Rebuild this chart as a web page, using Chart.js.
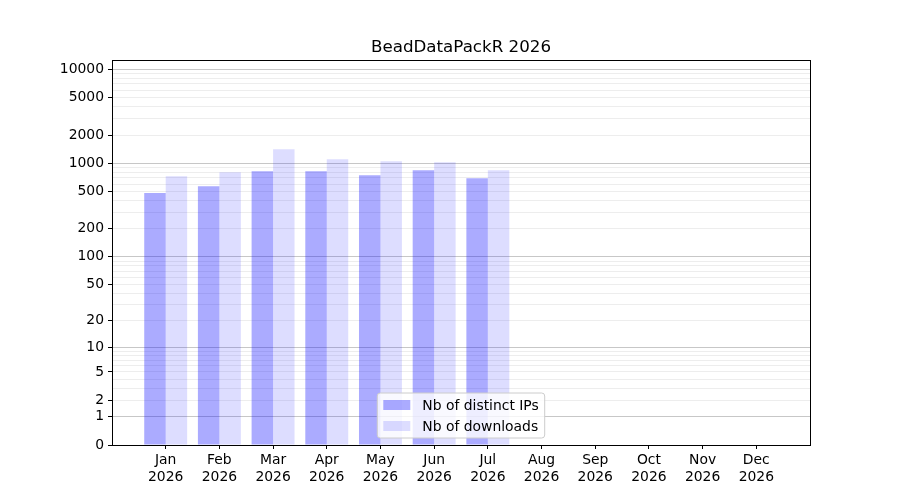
<!DOCTYPE html>
<html>
<head>
<meta charset="utf-8">
<script src="https://cdn.jsdelivr.net/npm/chart.js@4.4.1/dist/chart.umd.min.js"></script>
<style>
  html, body { margin: 0; padding: 0; background: #fff; }
  #wrap { width: 900px; height: 500px; }
</style>
</head>
<body>
<div id="wrap"><canvas id="bar-downloads" width="900" height="500"></canvas></div>
<script>
const chartTitle = 'BeadDataPackR 2026';
const monthLabels = ['Jan', 'Feb', 'Mar', 'Apr', 'May', 'Jun', 'Jul', 'Aug', 'Sep', 'Oct', 'Nov', 'Dec'];
const yearLabel = '2026';
const distinctIps = [483, 569, 822, 822, 745, 843, 692, 0, 0, 0, 0, 0];
const downloads = [727, 802, 1409, 1103, 1050, 1025, 843, 0, 0, 0, 0, 0];
const yLabelTicks = [0, 1, 2, 5, 10, 20, 50, 100, 200, 500, 1000, 2000, 5000, 10000];
const yDecadeTicks = [1, 10, 100, 1000, 10000];
const yMax = 12600;

// grid at 1..9 of every decade (plus 0)
var yGridTicks = [0];
for (const d of [1, 10, 100, 1000]) {
    for (let k = 1; k < 10; k++) yGridTicks.push(k * d);
}
yGridTicks.push(10000);

const FONT = 'DejaVu Sans';

// y = log10(1 + v), like the reference axis
class Log1pScale extends Chart.LinearScale {
    static id = 'log1p';
    static defaults = {};
    buildTicks() {
        return yGridTicks.filter(v => v >= this.min && v <= this.max).map(v => ({ value: v }));
    }
    configure() {
        super.configure();
        this._lo = Math.log10(1 + this.min);
        this._hi = Math.log10(1 + this.max);
    }
    getPixelForValue(value) {
        return this.getPixelForDecimal((Math.log10(1 + value) - this._lo) / (this._hi - this._lo));
    }
    getValueForPixel(pixel) {
        const d = this.getDecimalForPixel(pixel);
        return Math.pow(10, this._lo + d * (this._hi - this._lo)) - 1;
    }
}
Chart.register(Log1pScale);

// title over the axes, frame, matplotlib-like legend (lower center)
const frameLegend = {
    id: 'frameLegend',
    afterDatasetsDraw(chart) {
        const { ctx, chartArea: a } = chart;
        ctx.save();
        ctx.strokeStyle = '#000';
        ctx.lineWidth = 1;
        const l = Math.round(a.left) + 0.5, t = Math.round(a.top) + 0.5;
        ctx.strokeRect(l, t, Math.round(a.right) - Math.round(a.left), Math.round(a.bottom) - Math.round(a.top));

        ctx.fillStyle = '#000';
        ctx.textAlign = 'center';
        ctx.textBaseline = 'middle';
        ctx.font = '16.7px "' + FONT + '"';
        ctx.fillText(chartTitle, (a.left + a.right) / 2, a.top - 12);

        ctx.font = '13.9px "' + FONT + '"';
        const sets = chart.data.datasets;
        const textW = Math.max(...sets.map(s => ctx.measureText(s.label).width));
        const w = 45 + textW + 6, h = 45;
        const x = (a.left + a.right) / 2 - w / 2;
        const y = a.bottom - 7 - h;
        ctx.beginPath();
        ctx.roundRect(x, y, w, h, 3);
        ctx.fillStyle = 'rgba(255,255,255,0.8)';
        ctx.fill();
        ctx.strokeStyle = '#cccccc';
        ctx.stroke();
        ctx.textAlign = 'left';
        sets.forEach((s, i) => {
            const cy = y + 12 + i * 21;
            ctx.fillStyle = s.backgroundColor;
            ctx.fillRect(x + 6, cy - 5, 27, 10);
            ctx.fillStyle = '#000';
            ctx.fillText(s.label, x + 45, cy + 1);
        });
        ctx.restore();
    }
};

new Chart(document.getElementById('bar-downloads'), {
    type: 'bar',
    data: {
        datasets: [{
            label: 'Nb of distinct IPs',
            data: monthLabels.map((m, i) => ({ x: i, y: distinctIps[i] })),
            backgroundColor: 'rgba(0,0,255,0.33)',
            borderWidth: 0
        }, {
            label: 'Nb of downloads',
            data: monthLabels.map((m, i) => ({ x: i, y: downloads[i] })),
            backgroundColor: 'rgba(0,0,255,0.135)',
            borderWidth: 0
        }]
    },
    options: {
        responsive: false,
        animation: false,
        devicePixelRatio: 1,
        categoryPercentage: 0.8,
        barPercentage: 1.0,
        layout: { padding: { left: 0, right: 90, top: 60, bottom: 0 } },
        plugins: {
            legend: { display: false },
            tooltip: { enabled: false },
            title: { display: false }
        },
        scales: {
            x: {
                type: 'linear',
                min: -1,
                max: 12,
                offset: false,
                afterBuildTicks: (scale) => {
                    scale.ticks = monthLabels.map((m, i) => ({ value: i }));
                },
                afterFit: (scale) => { scale.height = 55; },
                border: { display: false },
                grid: { display: true, offset: false, drawOnChartArea: false, drawTicks: true, tickLength: 4, tickColor: '#000' },
                ticks: {
                    autoSkip: false,
                    maxRotation: 0,
                    padding: 3,
                    color: '#000',
                    font: { family: FONT, size: 13.9 },
                    callback: (v) => [monthLabels[v], yearLabel]
                }
            },
            y: {
                type: 'log1p',
                min: 0,
                max: yMax,
                afterFit: (scale) => { scale.width = 112; },
                border: { display: false },
                grid: {
                    display: true,
                    drawOnChartArea: true,
                    drawTicks: true,
                    tickLength: 4,
                    lineWidth: 1,
                    color: (c) => yDecadeTicks.includes(c.tick.value) ? 'rgba(0,0,0,0.22)' : 'rgba(0,0,0,0.07)',
                    tickColor: (c) => yLabelTicks.includes(c.tick.value) ? '#000' : 'rgba(0,0,0,0)'
                },
                ticks: {
                    autoSkip: false,
                    padding: 4,
                    color: '#000',
                    font: { family: FONT, size: 13.9 },
                    callback: (v) => yLabelTicks.includes(v) ? String(v) : ''
                }
            }
        }
    },
    plugins: [frameLegend]
});
</script>
</body>
</html>
